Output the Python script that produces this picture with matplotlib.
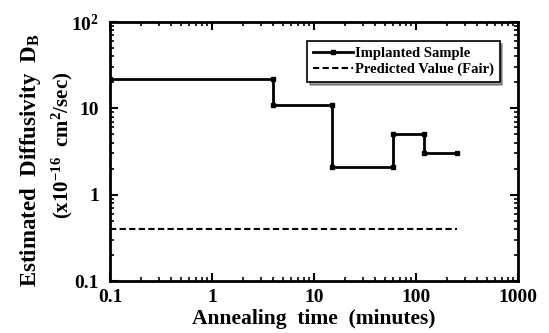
import matplotlib
matplotlib.use("Agg")
import matplotlib.pyplot as plt
from matplotlib.ticker import LogLocator, NullFormatter

plt.rcParams['font.family'] = ['Liberation Serif', 'DejaVu Serif']
plt.rcParams['font.weight'] = 'bold'
plt.rcParams['mathtext.fontset'] = 'custom'
plt.rcParams['mathtext.rm'] = 'Liberation Serif:bold'
plt.rcParams['mathtext.it'] = 'Liberation Serif:bold'
plt.rcParams['mathtext.bf'] = 'Liberation Serif:bold'

# data
impl_t = [0.1, 4, 4, 15, 15, 60, 60, 120, 120, 250]
impl_d = [22, 22, 11, 11, 2.1, 2.1, 5, 5, 3, 3]
pred_t = [0.1, 250]
pred_d = [0.4, 0.4]
xticks = [0.1, 1, 10, 100, 1000]
xticklabels = ["0.1", "1", "10", "100", "1000"]
yticks = [0.1, 1, 10, 100]
yticklabels = ["0.1", "1", "10", "$10^2$"]

fig = plt.figure(figsize=(5.49, 3.33), dpi=100)
ax = fig.add_axes([110/549, 1-281/333, (518-110)/549, (281-22)/333])

ax.plot(impl_t, impl_d, color='black', lw=2, marker='s', ms=3.5, label='Implanted Sample')
ax.plot(pred_t, pred_d, color='black', lw=1.5, ls=(0, (3, 1.6)), label='Predicted Value (Fair)')

ax.set_xscale('log')
ax.set_yscale('log')
ax.set_xlim(0.1, 1000)
ax.set_ylim(0.1, 100)
ax.set_xticks(xticks)
ax.set_xticklabels(xticklabels)
ax.set_yticks(yticks)
ax.set_yticklabels(yticklabels)
ax.xaxis.set_minor_locator(LogLocator(base=10, subs=range(2, 10), numticks=20))
ax.yaxis.set_minor_locator(LogLocator(base=10, subs=range(2, 10), numticks=20))
ax.xaxis.set_minor_formatter(NullFormatter())
ax.yaxis.set_minor_formatter(NullFormatter())
ax.tick_params(which='both', direction='in', top=True, right=True, labelsize=14)
ax.tick_params(axis='x', which='major', pad=6)
ax.tick_params(axis='y', which='major', pad=8)
ax.tick_params(which='major', length=6, width=1.5)
ax.tick_params(which='minor', length=3, width=1.2)
for s in ax.spines.values():
    s.set_linewidth(2)

ax.set_xlabel('Annealing  time  (minutes)', fontsize=15.5, fontweight='bold', labelpad=2)
fig.text(31/549, 1-160/333, 'Estimated  Diffusivity  D$_\\mathrm{B}$', rotation=90,
         ha='center', va='center', fontsize=16.5, fontweight='bold')
fig.text(62/549, 1-145/333, '(x10$^{-16}$  cm$^2$/sec)', rotation=90,
         ha='center', va='center', fontsize=15, fontweight='bold')

leg = ax.legend(loc='upper right', bbox_to_anchor=(0.955, 0.925), fontsize=10.5, frameon=True,
                fancybox=False, shadow={'ox': 2, 'oy': -2, 'color': 'black', 'alpha': 0.35},
                edgecolor='black', handlelength=2.7,
                handletextpad=0.15, borderpad=0.4, labelspacing=0.15, borderaxespad=0)
leg.get_frame().set_linewidth(1.2)

fig.savefig('out.png', dpi=100)
